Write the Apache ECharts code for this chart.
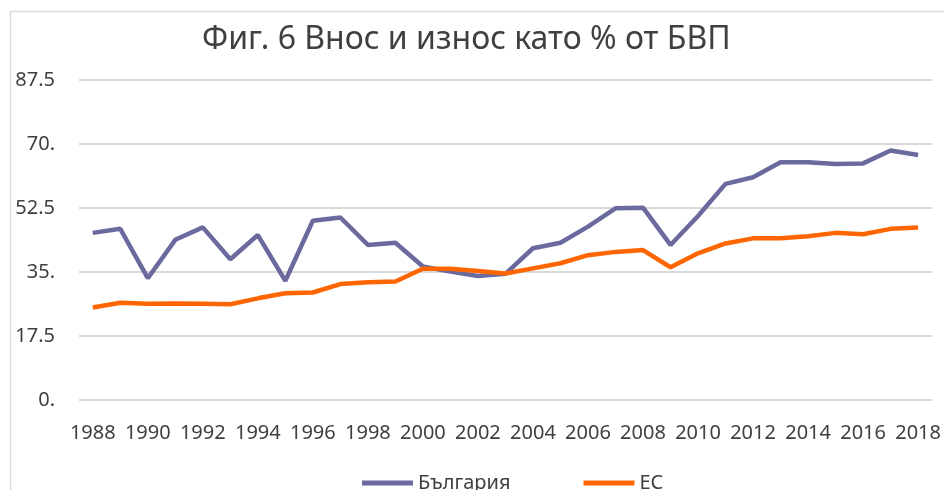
<!DOCTYPE html>
<html>
<head>
<meta charset="utf-8">
<script src="https://cdn.jsdelivr.net/npm/echarts@6/dist/echarts.min.js"></script>
<style>
html,body{margin:0;padding:0;background:#fff;}
#chart{width:944px;height:490px;}
</style>
</head>
<body>
<div id="chart"></div>
<script>
var titleText = 'Фиг. 6 Внос и износ като % от БВП';
var years = ['1988','1989','1990','1991','1992','1993','1994','1995','1996','1997','1998','1999','2000','2001','2002','2003','2004','2005','2006','2007','2008','2009','2010','2011','2012','2013','2014','2015','2016','2017','2018'];
var seriesNames = ['България', 'ЕС'];
var bulgaria = [45.7,46.8,33.3,43.8,47.2,38.5,45.1,32.6,49.0,49.9,42.4,43.0,36.5,35.1,33.9,34.5,41.5,43.0,47.4,52.4,52.6,42.4,50.3,59.1,60.9,65.0,65.0,64.5,64.7,68.2,67.0];
var eu = [25.3,26.6,26.3,26.4,26.3,26.2,27.8,29.2,29.4,31.7,32.2,32.4,35.9,35.9,35.3,34.6,36.0,37.4,39.6,40.5,41.0,36.3,40.1,42.8,44.2,44.2,44.8,45.7,45.3,46.8,47.2];
var yTicks = [0, 17.5, 35, 52.5, 70, 87.5];

var font = '"Noto Sans", "Open Sans", sans-serif';
var chart = echarts.init(document.getElementById('chart'));
chart.setOption({
  animation: false,
  backgroundColor: '#ffffff',
  title: {
    text: titleText,
    left: 197,
    top: 19,
    textStyle: {fontFamily: font, fontSize: 32, fontWeight: 'normal', color: '#404040'}
  },
  graphic: [{
    type: 'rect',
    shape: {x: 10.5, y: 11.5, width: 1000, height: 600},
    style: {fill: 'none', stroke: '#d9d9d9', lineWidth: 1.5},
    silent: true, z: -1
  }],
  legend: {
    data: seriesNames,
    left: 357,
    top: 468,
    icon: 'rect',
    itemWidth: 51,
    itemHeight: 5,
    itemGap: 73,
    textStyle: {fontFamily: font, fontSize: 20, color: '#404040'}
  },
  grid: {left: 79, right: 12, top: 80, bottom: 90, containLabel: false},
  xAxis: {
    type: 'category',
    data: years,
    boundaryGap: true,
    axisLine: {show: false},
    axisTick: {show: false},
    axisLabel: {interval: 1, margin: 23, fontFamily: font, fontSize: 20, color: '#404040'}
  },
  yAxis: {
    type: 'value',
    min: yTicks[0],
    max: yTicks[yTicks.length - 1],
    interval: yTicks[1] - yTicks[0],
    axisLine: {show: false},
    axisTick: {show: false},
    splitLine: {lineStyle: {color: '#d9d9d9', width: 2}},
    axisLabel: {
      margin: 24, fontFamily: font, fontSize: 20, color: '#404040',
      formatter: function (v) { return Number.isInteger(v) ? v + '.' : String(v); }
    }
  },
  series: [
    {name: seriesNames[0], type: 'line', data: bulgaria, symbol: 'none',
     lineStyle: {color: '#6a6a9e', width: 4.5}, itemStyle: {color: '#6a6a9e'}},
    {name: seriesNames[1], type: 'line', data: eu, symbol: 'none',
     lineStyle: {color: '#ff6600', width: 4.5}, itemStyle: {color: '#ff6600'}}
  ]
});
</script>
</body>
</html>
